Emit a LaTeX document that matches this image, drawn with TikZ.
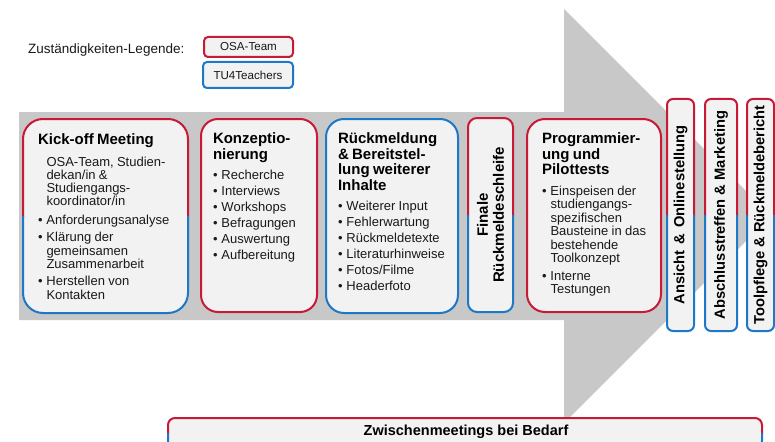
\documentclass[tikz,border=0pt]{standalone}
\usepackage{fontspec}
\setmainfont{Liberation Sans}
\usetikzlibrary{calc}
\definecolor{osared}{RGB}{200,25,55}
\definecolor{tublue}{RGB}{30,120,200}
\definecolor{boxfill}{RGB}{242,242,242}
\definecolor{arrowgray}{RGB}{200,200,200}
\definecolor{txtdark}{RGB}{25,25,25}
\newcommand\ttl{\fontsize{15}{15.7}\selectfont\bfseries\color{black}}
\newcommand\bdy{\fontsize{13}{13.4}\selectfont\mdseries}
\newcommand\bitem[1]{\par\vspace{2.6pt}\hangindent=8.5pt\hangafter=1\noindent\hbox to 8.5pt{\textbullet\hss}#1}
\newcommand\splitborder[2]{%
  \begin{scope}
    \clip ($(#1.north west)+(-5,-5)$) rectangle ($(#1.east)+(5,0)$);
    \draw[osared, line width=2pt, rounded corners=#2] (#1.north west) rectangle (#1.south east);
  \end{scope}
  \begin{scope}
    \clip ($(#1.west)+(-5,0)$) rectangle ($(#1.south east)+(5,5)$);
    \draw[tublue, line width=2pt, rounded corners=#2] (#1.north west) rectangle (#1.south east);
  \end{scope}}
\tikzset{
  panel/.style={fill=boxfill, inner sep=0pt, outer sep=0pt, rounded corners=#1},
  redline/.style={draw=osared, line width=2pt},
  blueline/.style={draw=tublue, line width=2pt},
  txtblock/.style={anchor=north west, inner sep=0pt, outer sep=0pt, text=txtdark},
  vlabel/.style={rotate=90, inner sep=0pt, font=\fontsize{14.7}{15.5}\selectfont\bfseries, text=black},
  legbox/.style={fill=boxfill, rounded corners=4pt, line width=2pt, inner sep=0pt, font=\fontsize{11.6}{12}\selectfont, text=txtdark},
}
\begin{document}
\begin{tikzpicture}[x=1pt, y=-1pt]
\useasboundingbox (0,0) rectangle (775,441);
\begin{scope}
\clip (0,0) rectangle (775,441);
% big gray arrow
\fill[arrowgray] (19,112) -- (564,112) -- (564,9) -- (771,216) -- (564,423) -- (564,320) -- (19,320) -- cycle;

% legend
\node[anchor=west, inner sep=0pt, font=\fontsize{13.5}{14}\selectfont, text=txtdark] (legtitle) at (28,50) {Zuständigkeiten-Legende:};
\node[legbox, draw=osared, minimum width=89pt, minimum height=20pt] (legosa) at (248.5,47) {OSA-Team};
\node[legbox, draw=tublue, minimum width=90pt, minimum height=26pt] (legtu) at (248,75) {TU4Teachers};

% boxes
\node[panel=20pt, minimum width=165pt, minimum height=194pt] (kick) at (105.5,216) {};
\splitborder{kick}{20pt}
\node[panel=17pt, redline, minimum width=116pt, minimum height=193pt] (konz) at (259,215.5) {};
\node[panel=18pt, blueline, minimum width=132pt, minimum height=194pt] (rueck) at (392,216) {};
\node[panel=9pt, minimum width=45pt, minimum height=194pt] (finale) at (490.5,215) {};
\splitborder{finale}{9pt}
\node[panel=18pt, redline, minimum width=134pt, minimum height=193pt] (prog) at (594,215.5) {};
\node[panel=6pt, minimum width=27pt, minimum height=232pt] (ans) at (680.5,215) {};
\splitborder{ans}{6pt}
\node[panel=6pt, minimum width=32pt, minimum height=232pt] (absch) at (721,215) {};
\splitborder{absch}{6pt}
\node[panel=6pt, minimum width=27pt, minimum height=232pt] (tool) at (760.5,215) {};
\splitborder{tool}{6pt}
\node[panel=7pt, minimum width=594pt, minimum height=30pt] (zwm) at (465,433) {};
\splitborder{zwm}{7pt}

% texts
\node[txtblock, text width=145pt] (kicktxt) at ($(kick.north west)+(15,15)$) {%
  {\ttl\noindent Kick-off Meeting\par}\bdy\vspace{9.2pt}%
  {\fontsize{13}{12.8}\selectfont\leftskip=8.5pt\noindent OSA-Team, Studien-\newline dekan/in \&\newline Studiengangs-\newline koordinator/in\par}%
  \fontsize{13}{13.6}\selectfont\vspace{3pt}%
  \bitem{Anforderungsanalyse}%
  \vspace{0.8pt}\bitem{Klärung der\newline gemeinsamen\newline Zusammenarbeit}%
  \vspace{0.8pt}\bitem{Herstellen von\newline Kontakten}\par};

\node[txtblock, text width=100pt] (konztxt) at ($(konz.north west)+(12,13.5)$) {%
  {\ttl\noindent Konzeptio-\newline nierung\par}\bdy\vspace{4.4pt}%
  \bitem{Recherche}\bitem{Interviews}\bitem{Workshops}\bitem{Befragungen}\bitem{Auswertung}\bitem{Aufbereitung}\par};

\node[txtblock, text width=125pt] (ruecktxt) at ($(rueck.north west)+(12,13.5)$) {%
  {\ttl\noindent Rückmeldung\newline \& Bereitstel-\newline lung weiterer\newline Inhalte\par}\bdy\vspace{4.4pt}%
  \bitem{Weiterer Input}\bitem{Fehlerwartung}\bitem{Rückmeldetexte}\bitem{Literaturhinweise}\bitem{Fotos/Filme}\bitem{Headerfoto}\par};

\node[txtblock, text width=115pt] (progtxt) at ($(prog.north west)+(15,13.5)$) {%
  {\ttl\noindent Programmier-\newline ung und\newline Pilottests\par}\bdy\vspace{4.4pt}%
  \fontsize{13}{13.5}\selectfont
  \bitem{Einspeisen der\newline studiengangs-\newline spezifischen\newline Bausteine in das\newline bestehende\newline Toolkonzept}%
  \vspace{1.5pt}\bitem{Interne\newline Testungen}\par};

\node[rotate=90, inner sep=0pt, align=center, font=\fontsize{15}{16}\selectfont\bfseries, text=black] (finaletxt) at (finale.center) {Finale\\Rückmeldeschleife};
\node[vlabel] (anstxt) at (ans.center) {Ansicht \hspace{2pt}\&\hspace{2pt} Onlinestellung};
\node[vlabel] (abschtxt) at (absch.center) {Abschlusstreffen \& Marketing};
\node[vlabel] (tooltxt) at (tool.center) {Toolpflege \& Rückmeldebericht};
\node[inner sep=0pt, font=\fontsize{14.5}{15}\selectfont\bfseries, text=black] (zwmtxt) at (466,432) {Zwischenmeetings bei Bedarf};
\end{scope}
\end{tikzpicture}
\end{document}
